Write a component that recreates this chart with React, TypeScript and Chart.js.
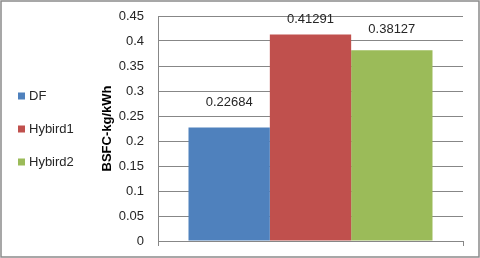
import React, { useEffect, useRef } from "react";
import { Chart, registerables } from "chart.js";

Chart.register(...registerables);

const categories = [""];
const seriesNames = ["DF", "Hybird1", "Hybird2"];
const seriesValues = [[0.22684], [0.41291], [0.38127]];
const valueLabels = ["0.22684", "0.41291", "0.38127"];
const seriesColors = ["#4F81BD", "#C0504D", "#9BBB59"];
const labelOffsets = [25, 15, 21];
const yTitle = "BSFC-kg/kWh";
const yMin = 0;
const yMax = 0.45;
const yStep = 0.05;

const FONT = "'Liberation Sans', Arial, sans-serif";
const TEXT = "#262626";
const GRID = "#878787";

export default function App() {
  const ref = useRef<HTMLCanvasElement>(null);
  useEffect(() => {
    document.body.style.margin = "0";
    const canvas = ref.current!;
    const dataLabels = {
      id: "dataLabels",
      afterDatasetsDraw(chart: any) {
        const ctx = chart.ctx;
        ctx.save();
        ctx.font = `13px ${FONT}`;
        ctx.fillStyle = TEXT;
        ctx.textAlign = "center";
        ctx.textBaseline = "middle";
        chart.data.datasets.forEach((ds: any, i: number) => {
          const meta = chart.getDatasetMeta(i);
          meta.data.forEach((bar: any) => {
            ctx.fillText(valueLabels[i], bar.x, bar.y - labelOffsets[i]);
          });
        });
        ctx.restore();
      },
    };
    const sideLegend = {
      id: "sideLegend",
      afterDraw(chart: any) {
        const ctx = chart.ctx;
        ctx.save();
        ctx.font = `13px ${FONT}`;
        ctx.textBaseline = "middle";
        ctx.textAlign = "left";
        const ys = [96, 129, 162];
        seriesNames.forEach((n, i) => {
          ctx.fillStyle = seriesColors[i];
          ctx.fillRect(18, ys[i] - 3.5, 7, 7);
          ctx.fillStyle = TEXT;
          ctx.fillText(n, 29, ys[i]);
        });
        ctx.strokeStyle = "#8a8a8a";
        ctx.lineWidth = 1.5;
        ctx.strokeRect(1, 1, 478, 256);
        ctx.restore();
      },
    };
    const chart = new Chart(canvas, {
      type: "bar",
      data: {
        labels: categories,
        datasets: seriesNames.map((n, i) => ({
          label: n,
          data: seriesValues[i],
          backgroundColor: seriesColors[i],
          borderWidth: 0,
          categoryPercentage: 0.8,
          barPercentage: 1,
        })),
      },
      options: {
        responsive: false,
        animation: false,
        layout: { padding: { left: 100, right: 17, top: 16, bottom: 12 } },
        plugins: { legend: { display: false }, tooltip: { enabled: false } },
        scales: {
          x: {
            offset: true,
            afterFit: (s: any) => { s.height = 5; },
            ticks: { display: false },
            grid: { drawOnChartArea: false, drawTicks: true, tickLength: 5, color: GRID, offset: true },
            border: { color: GRID },
          },
          y: {
            min: yMin,
            max: yMax,
            afterFit: (s: any) => { s.width = 58; s.paddingBottom = 0; s.paddingTop = 0; },
            ticks: {
              stepSize: yStep,
              padding: 14,
              color: TEXT,
              font: { family: FONT, size: 13 },
              callback: (v: any) => String(Number(Number(v).toFixed(2))),
            },
            grid: { color: GRID, drawTicks: false },
            border: { color: GRID },
            title: {
              display: true,
              text: yTitle,
              color: "#000",
              font: { family: FONT, size: 13, weight: "bold" },
              padding: { top: 0, bottom: 0 },
            },
          },
        },
      },
      plugins: [dataLabels, sideLegend],
    });
    return () => chart.destroy();
  }, []);
  return <canvas ref={ref} width={480} height={258} style={{ display: "block" }} />;
}
